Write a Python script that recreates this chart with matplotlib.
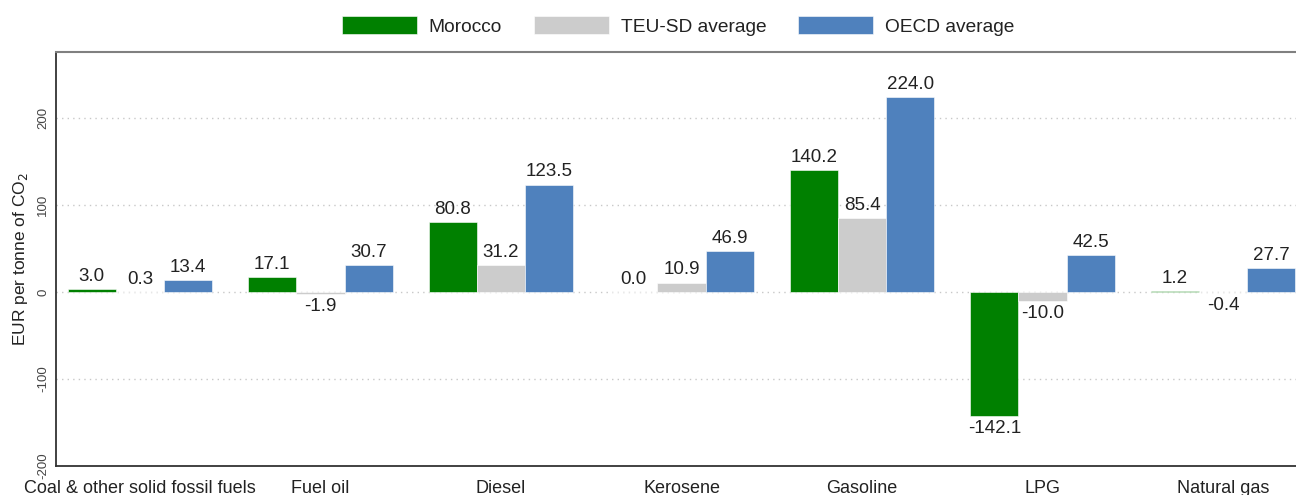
import matplotlib
matplotlib.use("Agg")
import matplotlib.pyplot as plt
import numpy as np

plt.rcParams['font.family'] = ['Liberation Sans', 'DejaVu Sans']

categories = ["Coal & other solid fossil fuels", "Fuel oil", "Diesel", "Kerosene",
              "Gasoline", "LPG", "Natural gas"]
series_names = ["Morocco", "TEU-SD average", "OECD average"]
morocco = [3.0, 17.1, 80.8, 0.0, 140.2, -142.1, 1.2]
teu_sd = [0.3, -1.9, 31.2, 10.9, 85.4, -10.0, -0.4]
oecd = [13.4, 30.7, 123.5, 46.9, 224.0, 42.5, 27.7]
yticks = [-200, -100, 0, 100, 200]

colors = ["#008000", "#cccccc", "#4f81bd"]

W, H = 1296, 495
fig = plt.figure(figsize=(W / 100, H / 100), dpi=100)
ax = fig.add_axes([56 / W, (H - 466) / H, (1307 - 56) / W, (466 - 52) / H])

x = np.arange(len(categories))
width = 0.8 / 3
series = [morocco, teu_sd, oecd]
for i, (vals, name, c) in enumerate(zip(series, series_names, colors)):
    pos = x + (i - 1) * width
    ax.bar(pos, vals, width=width, color=c, label=name, zorder=3,
           edgecolor="white", linewidth=0.4)
    for xp, v in zip(pos, vals):
        if v >= 0:
            ax.annotate(f"{v:.1f}", (xp, v), xytext=(0, 3), textcoords="offset points",
                        ha="center", va="bottom", fontsize=13.5, color="#222222", zorder=4)
        else:
            ax.annotate(f"{v:.1f}", (xp, v), xytext=(0, -3), textcoords="offset points",
                        ha="center", va="top", fontsize=13.5, color="#222222", zorder=4)

ax.set_xlim(-0.465, len(categories) - 1 + 0.465)
ax.set_ylim(-200, 276)
ax.set_yticks(yticks)
ax.set_yticklabels([str(t) for t in yticks], rotation=90, va="center", fontsize=9.5,
                   color="#444444")
ax.set_xticks(x)
ax.set_xticklabels(categories, fontsize=13, color="#222222")
ax.tick_params(axis="both", length=0)
ax.tick_params(axis="x", pad=10)
ax.tick_params(axis="y", pad=5)

ax.grid(axis="y", linestyle=(0, (1, 3)), color="#c8c8c8", linewidth=1, zorder=0)
ax.set_axisbelow(True)

ax.set_ylabel("EUR per tonne of CO$_2$", fontsize=12.5, color="#222222", labelpad=5)

for s in ["left", "bottom"]:
    ax.spines[s].set_color("#333333")
    ax.spines[s].set_linewidth(1.3)
ax.spines["top"].set_color("#808080")
ax.spines["top"].set_linewidth(1.5)
ax.spines["right"].set_visible(False)

leg = fig.legend(loc="center", bbox_to_anchor=(678 / W, 1 - 26 / H), ncol=3,
                 frameon=False, fontsize=13.8, handlelength=3.9, handleheight=1.0,
                 handletextpad=0.63, columnspacing=1.65)
for t in leg.get_texts():
    t.set_color("#222222")

fig.savefig("out.png", dpi=100)
